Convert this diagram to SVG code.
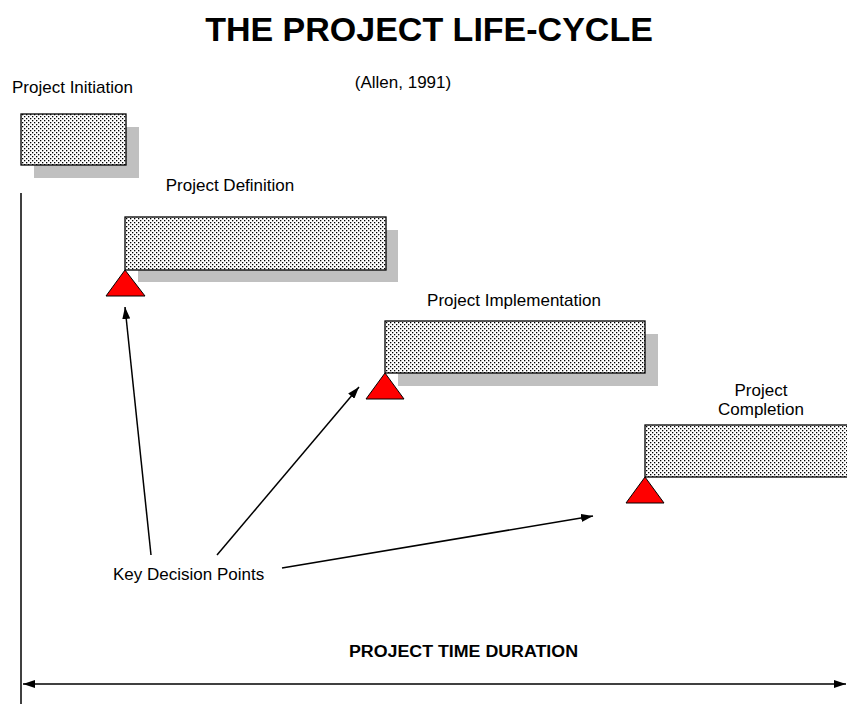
<svg xmlns="http://www.w3.org/2000/svg" width="847" height="706" viewBox="0 0 847 706">
<style>
text{font-family:"Liberation Sans",Arial,sans-serif;fill:#000}
.lbl{font-size:17px}
.shadow{fill:#c0c0c0}
.bar{fill:url(#dots);stroke:#000;stroke-width:1.3}
.tri{fill:#ff0000;stroke:#000;stroke-width:1}
.ln{stroke:#000;stroke-width:1.5;fill:none}
</style>
<defs>
<pattern id="dots" x="0" y="0" width="4" height="4" patternUnits="userSpaceOnUse">
<rect width="4" height="4" fill="#fff"/>
<rect x="0" y="0" width="1.3" height="1.3" fill="#000"/>
<rect x="2" y="2" width="1.3" height="1.3" fill="#000"/>
</pattern>
<marker id="ah" viewBox="0 0 12 8" refX="12" refY="4" markerWidth="12" markerHeight="8" markerUnits="userSpaceOnUse" orient="auto-start-reverse">
<path d="M0,0 L12,4 L0,8 Z" fill="#000"/>
</marker>
</defs>
<text x="429" y="41" font-size="34" font-weight="bold" text-anchor="middle">THE PROJECT LIFE-CYCLE</text>
<text x="403" y="88" class="lbl" text-anchor="middle">(Allen, 1991)</text>

<g id="initiation">
<text x="12" y="93" class="lbl">Project Initiation</text>
<rect class="shadow" x="34" y="127" width="105" height="51"/>
<rect class="bar" x="21" y="114" width="105" height="51"/>
</g>

<g id="definition">
<text x="230" y="191" class="lbl" text-anchor="middle">Project Definition</text>
<rect class="shadow" x="138" y="230" width="260" height="52"/>
<rect class="bar" x="125" y="217" width="261" height="53"/>
<polygon class="tri" points="125,270 145,296 106,296"/>
</g>

<g id="implementation">
<text x="514" y="306" class="lbl" text-anchor="middle">Project Implementation</text>
<rect class="shadow" x="398" y="334" width="260" height="52"/>
<rect class="bar" x="385" y="321" width="260" height="52"/>
<polygon class="tri" points="385,373 404,399 366,399"/>
</g>

<g id="completion">
<text x="761" y="396" class="lbl" text-anchor="middle">Project</text>
<text x="761" y="415" class="lbl" text-anchor="middle">Completion</text>
<rect class="bar" x="645" y="425" width="215" height="52"/>
<polygon class="tri" points="645,477 664,503 626,503"/>
</g>

<g id="key-decision-points">
<text x="113" y="580" class="lbl">Key Decision Points</text>
</g>

<g id="duration">
<text x="349" y="657" font-size="16" font-weight="bold" textLength="229" lengthAdjust="spacingAndGlyphs">PROJECT TIME DURATION</text>
</g>

<g id="connectors">
<line class="ln" x1="21" y1="193" x2="21" y2="704"/>
<line class="ln" x1="23" y1="684" x2="846" y2="684" marker-start="url(#ah)" marker-end="url(#ah)"/>
<line class="ln" x1="151" y1="555" x2="125" y2="307" marker-end="url(#ah)"/>
<line class="ln" x1="217" y1="555" x2="359" y2="387" marker-end="url(#ah)"/>
<line class="ln" x1="282" y1="568" x2="593" y2="516" marker-end="url(#ah)"/>
</g>
</svg>
